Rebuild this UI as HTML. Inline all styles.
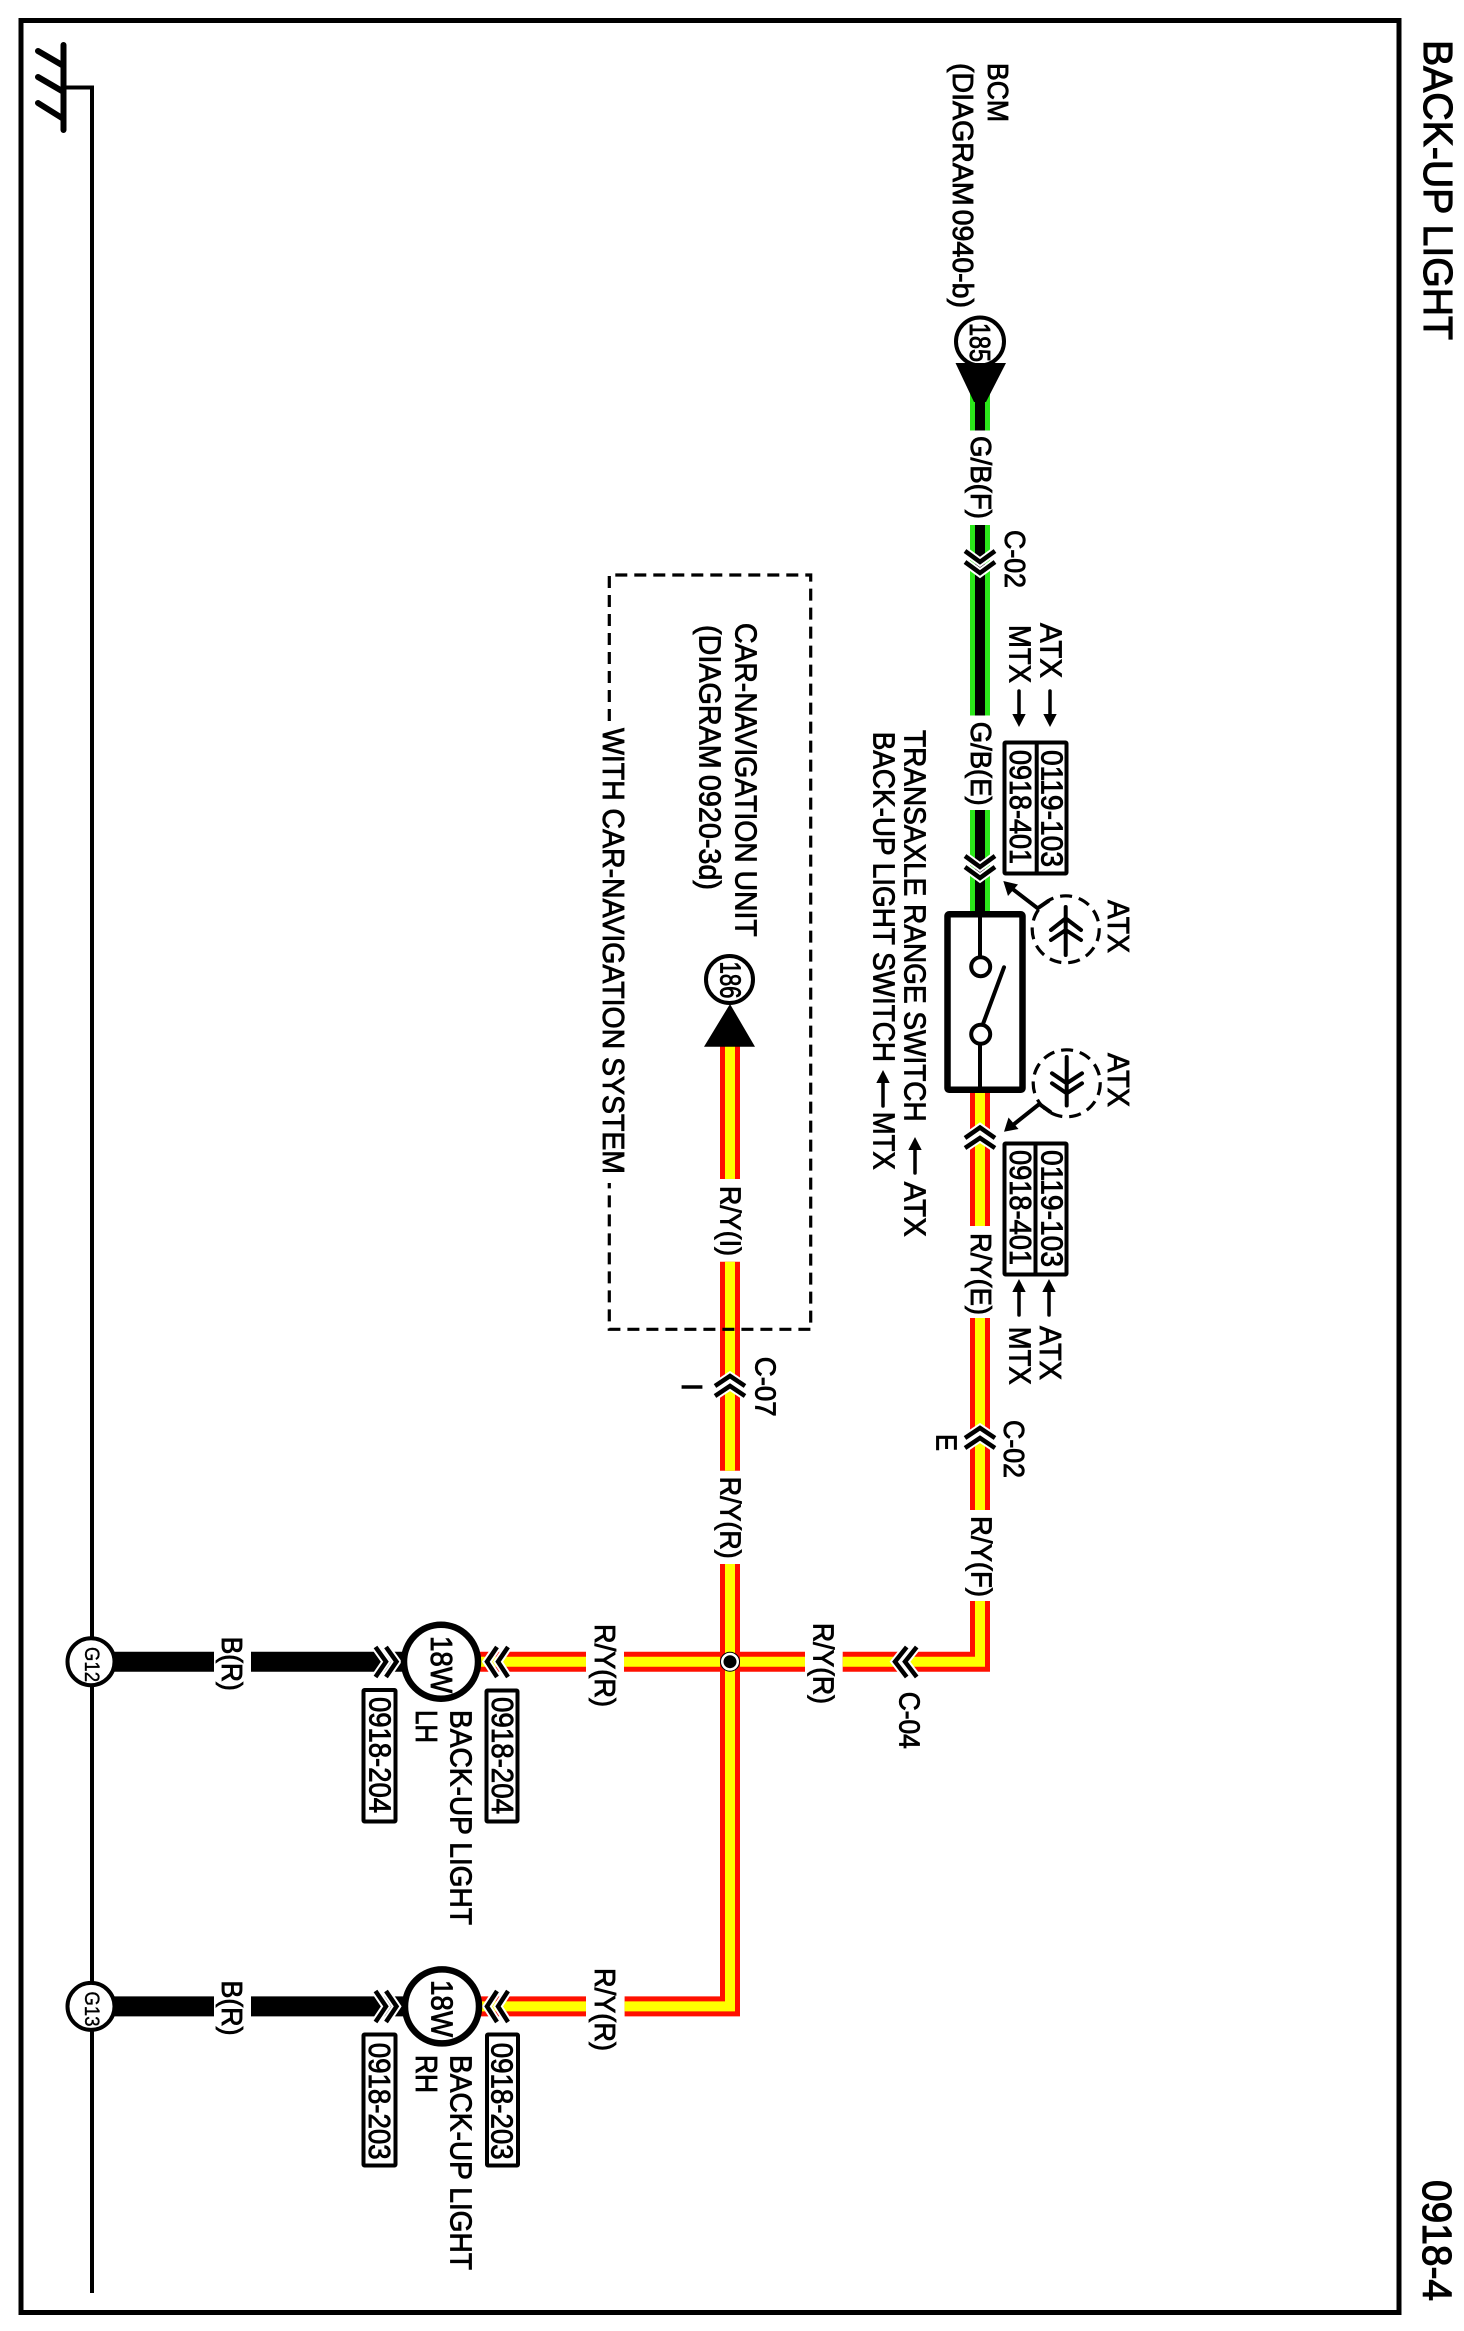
<!DOCTYPE html>
<html lang="en"><head><meta charset="utf-8"><title>BACK-UP LIGHT 0918-4</title>
<style>
html,body{margin:0;padding:0;background:#fff}
svg{display:block}
text{font-family:"Liberation Sans",sans-serif;fill:#000;stroke:#000;stroke-width:.85}
.a{font-size:31px}.t{font-size:41px;stroke-width:1.1}.n{font-size:29px}.g{font-size:21px;stroke-width:.35}
.w{fill:none;stroke-linejoin:miter}
.c{fill:none;stroke:#000;stroke-width:4.500;stroke-linejoin:miter}
.h{fill:none;stroke:#fff;stroke-width:8.500;stroke-linejoin:miter}
.l{fill:none;stroke:#000;stroke-width:3.500;stroke-linecap:round}
.l4{fill:none;stroke:#000;stroke-width:4;stroke-linecap:round}
.r{fill:#fff;stroke:#000;stroke-width:4}
.d{fill:none;stroke:#000;stroke-width:3.200;stroke-dasharray:12 7}
</style></head><body>
<svg width="1464" height="2331" viewBox="0 0 1464 2331" xmlns="http://www.w3.org/2000/svg">
<rect width="1464" height="2331" fill="#fff"/>
<!-- frame -->
<rect x="21" y="20.500" width="1378" height="2292" fill="none" stroke="#000" stroke-width="5"/>
<!-- ground bus -->
<path d="M63 87.500H92V2293" fill="none" stroke="#000" stroke-width="4"/>
<path d="M63.500 45V130M38 51L62 65M38 77L62 91M38 103L62 118" fill="none" stroke="#000" stroke-width="6" stroke-linecap="round"/>

<!-- green/black wires -->
<g class="w">
<path d="M980 391V430.500M980 525V715.500M980 810V914" stroke="#2be81a" stroke-width="20"/>
<path d="M980 391V430.500M980 525V715.500M980 810V914" stroke="#000" stroke-width="10"/>
<!-- red/yellow wires -->
<path d="M980 1090V1226M980 1318V1510M980 1601V1661.700H842.700M805 1661.700H730H624M586 1661.700H480" stroke="#ff1000" stroke-width="20"/>
<path d="M980 1090V1226M980 1318V1510M980 1601V1661.700H842.700M805 1661.700H730H624M586 1661.700H480" stroke="#ffff00" stroke-width="10"/>
<path d="M730 1046V1179M730 1261.700V1470.700M730 1564V2006.400H624.600M586 2006.400H480" stroke="#ff1000" stroke-width="20"/>
<path d="M730 1046V1179M730 1261.700V1470.700M730 1564V2006.400H624.600M586 2006.400H480" stroke="#ffff00" stroke-width="10"/>
<!-- black wires -->
<path d="M113 1661.700H214M251 1661.700H405M113 2006.400H214M251 2006.400H405" stroke="#000" stroke-width="20"/>
</g>

<!-- terminal 185 -->
<circle cx="980" cy="341.500" r="24" fill="#fff" stroke="#000" stroke-width="4"/>
<path d="M955.500 363H1006L986 402H974Z" fill="#000"/>
<text class="n" transform="translate(970 323) rotate(90)" textLength="39" lengthAdjust="spacingAndGlyphs">185</text>
<!-- terminal 186 -->
<circle cx="729.500" cy="979.500" r="23.500" fill="#fff" stroke="#000" stroke-width="4"/>
<path d="M704 1046.700H755L730 1004Z" fill="#000"/>
<text class="n" transform="translate(720.500 961.500) rotate(90)" textLength="37" lengthAdjust="spacingAndGlyphs">186</text>

<!-- switch -->
<rect x="947.500" y="914.300" width="75" height="175.500" rx="1.500" fill="#fff" stroke="#000" stroke-width="6.500"/>
<path d="M980 914V956M980 1045V1090" class="l4"/>
<circle cx="980.700" cy="966.700" r="9.500" fill="#fff" stroke="#000" stroke-width="4"/>
<circle cx="980.700" cy="1034.300" r="9.500" fill="#fff" stroke="#000" stroke-width="4"/>
<path d="M983 1024L1004 967.300" class="l4"/>

<!-- chevrons vertical -->
<g>
<path class="h" d="M965 551L980 562L995 551M965 562L980 573L995 562"/><path class="c" d="M965 551L980 562L995 551M965 562L980 573L995 562"/>
<path class="h" d="M965 856L980 867L995 856M965 867L980 878L995 867"/><path class="c" d="M965 856L980 867L995 856M965 867L980 878L995 867"/>
<path class="h" d="M965 1138L980 1127.500L995 1138M965 1148L980 1138L995 1148"/><path class="c" d="M965 1138L980 1127.500L995 1138M965 1148L980 1138L995 1148"/>
<path class="h" d="M965 1438L980 1428L995 1438M965 1448L980 1438L995 1448"/><path class="c" d="M965 1438L980 1428L995 1438M965 1448L980 1438L995 1448"/>
<path class="h" d="M715 1386L730 1376L745 1386M715 1396L730 1386L745 1396"/><path class="c" d="M715 1386L730 1376L745 1386M715 1396L730 1386L745 1396"/>
<!-- C-04 -->
<path class="h" d="M906.700 1647L895 1661.700L906.700 1677M916.700 1647L905 1661.700L916.700 1677"/><path class="c" d="M906.700 1647L895 1661.700L906.700 1677M916.700 1647L905 1661.700L916.700 1677"/>
<!-- lamp connectors -->
<path class="h" d="M497 1647L487 1661.700L497 1677M508 1647L498 1661.700L508 1677"/><path class="c" d="M497 1647L487 1661.700L497 1677M508 1647L498 1661.700L508 1677"/>
<path class="h" d="M497 1991L487 2006.400L497 2022M508 1991L498 2006.400L508 2022"/><path class="c" d="M497 1991L487 2006.400L497 2022M508 1991L498 2006.400L508 2022"/>
<path class="h" d="M375.500 1647L386 1661.700L375.500 1677M386 1647L396.500 1661.700L386 1677"/><path class="c" d="M375.500 1647L386 1661.700L375.500 1677M386 1647L396.500 1661.700L386 1677"/>
<path class="h" d="M375.500 1991L386 2006.400L375.500 2022M386 1991L396.500 2006.400L386 2022"/><path class="c" d="M375.500 1991L386 2006.400L375.500 2022M386 1991L396.500 2006.400L386 2022"/>
</g>

<!-- junction -->
<circle cx="730" cy="1661.700" r="9.500" fill="#fff" stroke="#000" stroke-width="1"/>
<circle cx="730" cy="1661.700" r="6.500" fill="#000"/>

<!-- lamps -->
<circle cx="441" cy="1661.700" r="37" fill="#fff" stroke="#000" stroke-width="6.500"/>
<circle cx="442" cy="2006.400" r="37" fill="#fff" stroke="#000" stroke-width="6.500"/>
<text class="a" transform="translate(431 1636) rotate(90)" textLength="57" lengthAdjust="spacingAndGlyphs">18W</text>
<text class="a" transform="translate(431.500 1980) rotate(90)" textLength="57" lengthAdjust="spacingAndGlyphs">18W</text>

<!-- grounds -->
<circle cx="91" cy="1661.700" r="23.500" fill="#fff" stroke="#000" stroke-width="4"/>
<circle cx="91" cy="2006.400" r="23.500" fill="#fff" stroke="#000" stroke-width="4"/>
<text class="g" transform="translate(85 1647) rotate(90)" textLength="35" lengthAdjust="spacingAndGlyphs">G12</text>
<text class="g" transform="translate(85 1991.500) rotate(90)" textLength="35" lengthAdjust="spacingAndGlyphs">G13</text>

<!-- dashed box -->
<path class="d" d="M609.300 721V575H810.700V1329.300H609.300V1183"/>

<!-- ref boxes -->
<rect x="1004.500" y="742.500" width="62" height="131" rx="1" class="r"/>
<rect x="1004.500" y="1143.500" width="62" height="131" rx="1" class="r"/>
<path d="M1036.700 742.500V873.500M1035.500 1143.500V1274.500" stroke="#000" stroke-width="4"/>
<rect x="486.500" y="1690.500" width="31" height="131" rx="1" class="r"/>
<rect x="363.500" y="1690" width="32" height="131.500" rx="1" class="r"/>
<rect x="487" y="2034.500" width="31" height="131" rx="1" class="r"/>
<rect x="363.500" y="2034.500" width="32" height="131" rx="1" class="r"/>

<!-- arrows -->
<g>
<path class="l" d="M1019 691V716M1050 691V716"/><path d="M1012.300 714H1025.700L1019 727ZM1043.300 714H1056.700L1050 727Z" fill="#000"/>
<path class="l" d="M1019 1291V1315M1049 1291V1315"/><path d="M1012.300 1292H1025.700L1019 1279ZM1042.300 1292H1055.700L1049 1279Z" fill="#000"/>
<path class="l" d="M915 1150V1173"/><path d="M908.300 1150H921.700L915 1137Z" fill="#000"/>
<path class="l" d="M883 1083V1106"/><path d="M876.300 1083H889.700L883 1070Z" fill="#000"/>
<!-- leaders -->
<path class="l4" d="M1048.300 901L1037.700 908.300L1010 887"/><path d="M1003.300 881L1018 884.500L1008 896Z" fill="#000"/>
<path class="l4" d="M1050 1111.700L1039.300 1104L1011.700 1126"/><path d="M1004 1131.700L1008.500 1117.500L1018.500 1129Z" fill="#000"/>
</g>

<!-- ATX circles -->
<circle cx="1065.700" cy="929.300" r="33.500" class="d"/>
<path class="l4" d="M1065.700 907V955M1051 930L1065.700 918.300L1081 930M1051 940L1065.700 930L1081 940"/>
<circle cx="1066.700" cy="1083.300" r="33.500" class="d"/>
<path class="l4" d="M1066.700 1057V1105.500M1052 1073.300L1066.700 1083.300L1082 1073.300M1052 1083.300L1066.700 1093.300L1082 1083.300"/>

<!-- text: title -->
<text class="t" transform="translate(1424 40) rotate(90)" textLength="300" lengthAdjust="spacingAndGlyphs">BACK-UP LIGHT</text>
<text class="t" transform="translate(1423 2180) rotate(90)" textLength="121" lengthAdjust="spacingAndGlyphs">0918-4</text>

<text class="n" transform="translate(988 63) rotate(90)" textLength="59" lengthAdjust="spacingAndGlyphs">BCM</text>
<text class="n" style="word-spacing:-4px" transform="translate(953 63) rotate(90)" textLength="245" lengthAdjust="spacingAndGlyphs">(DIAGRAM 0940-b)</text>
<text class="n" transform="translate(971 436) rotate(90)" textLength="83" lengthAdjust="spacingAndGlyphs">G/B(F)</text>
<text class="n" transform="translate(1005 530) rotate(90)" textLength="58" lengthAdjust="spacingAndGlyphs">C-02</text>
<text class="n" transform="translate(971 721.700) rotate(90)" textLength="84" lengthAdjust="spacingAndGlyphs">G/B(E)</text>

<text class="a" transform="translate(1009.500 625) rotate(90)" textLength="58" lengthAdjust="spacingAndGlyphs">MTX</text>
<text class="a" transform="translate(1040.500 623) rotate(90)" textLength="55" lengthAdjust="spacingAndGlyphs">ATX</text>
<text class="a" transform="translate(1041.500 750) rotate(90)" textLength="117" lengthAdjust="spacingAndGlyphs">0119-103</text>
<text class="a" transform="translate(1010 750) rotate(90)" textLength="114" lengthAdjust="spacingAndGlyphs">0918-401</text>
<text class="a" transform="translate(1041.500 1150) rotate(90)" textLength="117" lengthAdjust="spacingAndGlyphs">0119-103</text>
<text class="a" transform="translate(1010 1150) rotate(90)" textLength="115" lengthAdjust="spacingAndGlyphs">0918-401</text>
<text class="a" transform="translate(1009.500 1326.700) rotate(90)" textLength="58" lengthAdjust="spacingAndGlyphs">MTX</text>
<text class="a" transform="translate(1040 1326) rotate(90)" textLength="54" lengthAdjust="spacingAndGlyphs">ATX</text>
<text class="a" transform="translate(1108 900) rotate(90)" textLength="53" lengthAdjust="spacingAndGlyphs">ATX</text>
<text class="a" transform="translate(1108 1053) rotate(90)" textLength="54" lengthAdjust="spacingAndGlyphs">ATX</text>

<text class="a" transform="translate(904.500 730) rotate(90)" textLength="391.700" lengthAdjust="spacingAndGlyphs">TRANSAXLE RANGE SWITCH</text>
<text class="a" transform="translate(873.500 731.700) rotate(90)" textLength="330.300" lengthAdjust="spacingAndGlyphs">BACK-UP LIGHT SWITCH</text>
<text class="a" transform="translate(904.500 1181.700) rotate(90)" textLength="55" lengthAdjust="spacingAndGlyphs">ATX</text>
<text class="a" transform="translate(873.500 1111.700) rotate(90)" textLength="58" lengthAdjust="spacingAndGlyphs">MTX</text>

<text class="n" transform="translate(971 1233) rotate(90)" textLength="82" lengthAdjust="spacingAndGlyphs">R/Y(E)</text>
<text class="n" transform="translate(1004 1420) rotate(90)" textLength="58" lengthAdjust="spacingAndGlyphs">C-02</text>
<text class="n" transform="translate(936.500 1434) rotate(90)" textLength="17" lengthAdjust="spacingAndGlyphs">E</text>
<text class="n" transform="translate(971.500 1516) rotate(90)" textLength="81" lengthAdjust="spacingAndGlyphs">R/Y(F)</text>
<text class="n" transform="translate(899.500 1691.700) rotate(90)" textLength="57" lengthAdjust="spacingAndGlyphs">C-04</text>
<text class="n" transform="translate(813.500 1623) rotate(90)" textLength="81" lengthAdjust="spacingAndGlyphs">R/Y(R)</text>
<text class="n" transform="translate(720.500 1476.700) rotate(90)" textLength="82" lengthAdjust="spacingAndGlyphs">R/Y(R)</text>
<text class="n" transform="translate(755.500 1356.700) rotate(90)" textLength="60" lengthAdjust="spacingAndGlyphs">C-07</text>
<text class="n" transform="translate(682 1383) rotate(90)">I</text>
<text class="n" transform="translate(720.500 1186) rotate(90)" textLength="70" lengthAdjust="spacingAndGlyphs">R/Y(I)</text>
<text class="n" transform="translate(595 1624) rotate(90)" textLength="83" lengthAdjust="spacingAndGlyphs">R/Y(R)</text>
<text class="n" transform="translate(595 1968) rotate(90)" textLength="83" lengthAdjust="spacingAndGlyphs">R/Y(R)</text>

<text class="a" transform="translate(735.500 623) rotate(90)" textLength="313.700" lengthAdjust="spacingAndGlyphs">CAR-NAVIGATION UNIT</text>
<text class="a" style="word-spacing:-2px" transform="translate(699.500 625) rotate(90)" textLength="265" lengthAdjust="spacingAndGlyphs">(DIAGRAM 0920-3d)</text>
<text class="a" transform="translate(603 728) rotate(90)" textLength="446" lengthAdjust="spacingAndGlyphs">WITH CAR-NAVIGATION SYSTEM</text>

<text class="n" transform="translate(222 1636.700) rotate(90)" textLength="54" lengthAdjust="spacingAndGlyphs">B(R)</text>
<text class="n" transform="translate(222 1980.500) rotate(90)" textLength="55" lengthAdjust="spacingAndGlyphs">B(R)</text>

<text class="a" transform="translate(492 1697) rotate(90)" textLength="117" lengthAdjust="spacingAndGlyphs">0918-204</text>
<text class="a" transform="translate(369.500 1697) rotate(90)" textLength="116" lengthAdjust="spacingAndGlyphs">0918-204</text>
<text class="a" transform="translate(491.500 2042.700) rotate(90)" textLength="117" lengthAdjust="spacingAndGlyphs">0918-203</text>
<text class="a" transform="translate(369 2042.700) rotate(90)" textLength="117" lengthAdjust="spacingAndGlyphs">0918-203</text>

<text class="a" transform="translate(450.500 1710) rotate(90)" textLength="215" lengthAdjust="spacingAndGlyphs">BACK-UP LIGHT</text>
<text class="a" transform="translate(416 1710) rotate(90)" textLength="33" lengthAdjust="spacingAndGlyphs">LH</text>
<text class="a" transform="translate(450.500 2055) rotate(90)" textLength="215" lengthAdjust="spacingAndGlyphs">BACK-UP LIGHT</text>
<text class="a" transform="translate(416 2055) rotate(90)" textLength="38" lengthAdjust="spacingAndGlyphs">RH</text>
</svg>
</body></html>
